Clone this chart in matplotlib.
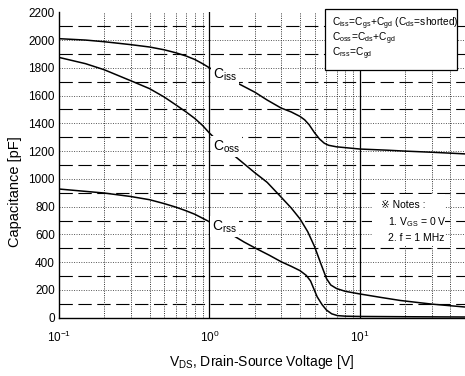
import matplotlib
matplotlib.use("Agg")
import matplotlib.pyplot as plt
from matplotlib.patches import Rectangle

plt.rcParams['font.family'] = ['Liberation Sans', 'DejaVu Sans']
plt.rcParams['mathtext.fontset'] = 'custom'
plt.rcParams['mathtext.rm'] = 'Liberation Sans'
plt.rcParams['mathtext.it'] = 'Liberation Sans'

# ---- data ----
ciss_v = [0.1, 0.15, 0.2, 0.3, 0.4, 0.5, 0.6, 0.7, 0.8, 0.9, 1.0, 1.2, 1.42, 1.7, 2.0, 2.42, 3.0, 3.5, 4.0, 4.3, 4.6, 5.0, 5.4, 5.8, 6.2, 7.0, 8.0, 10, 15, 20, 30, 50]
ciss_c = [2010, 2000, 1988, 1967, 1950, 1930, 1908, 1885, 1860, 1830, 1800, 1755, 1709, 1665, 1625, 1568, 1510, 1482, 1450, 1425, 1390, 1332, 1287, 1257, 1242, 1231, 1225, 1215, 1207, 1200, 1192, 1180]

coss_v = [0.1, 0.15, 0.2, 0.3, 0.4, 0.5, 0.6, 0.7, 0.8, 0.9, 1.0, 1.2, 1.49, 2.0, 2.42, 3.0, 3.5, 4.0, 4.5, 5.0, 5.5, 6.0, 6.4, 7.0, 8.0, 10, 14, 18.6, 30, 50]
coss_c = [1875, 1830, 1786, 1707, 1650, 1590, 1532, 1482, 1435, 1385, 1330, 1248, 1160, 1045, 975, 868, 790, 712, 620, 512, 390, 282, 236, 210, 190, 171, 145, 124, 98, 77]

crss_v = [0.1, 0.2, 0.3, 0.4, 0.5, 0.6, 0.7, 0.8, 0.94, 1.2, 1.42, 1.7, 2.03, 2.5, 3.0, 3.5, 4.0, 4.4, 4.7, 5.0, 5.2, 5.6, 6.0, 6.5, 7.1, 8.0, 10, 20, 50]
crss_c = [927, 898, 873, 850, 822, 796, 770, 745, 706, 645, 596, 545, 500, 450, 403, 370, 339, 305, 265, 195, 151, 95, 55, 28, 15, 11, 9, 7, 5]

y_ticks = list(range(0, 2201, 200))
y_dash = list(range(100, 2200, 200))
y_dot = list(range(200, 2200, 200))
x_major = [1, 10]
x_minor = [0.2, 0.3, 0.4, 0.5, 0.6, 0.7, 0.8, 0.9, 2, 3, 4, 5, 6, 7, 8, 9, 20, 30, 40, 50]
x_ticks = [0.1, 1, 10]
x_ticklabels = [r'$\mathregular{10^{-1}}$', r'$\mathregular{10^{0}}$', r'$\mathregular{10^{1}}$']

W, H = 465, 376
fig = plt.figure(figsize=(W / 100, H / 100), dpi=100)
ax = fig.add_axes([59 / W, 1 - 317.7 / H, (465 - 59) / W, (317.7 - 12.3) / H])
ax.set_xscale('log')
ax.set_xlim(0.1, 50)
ax.set_ylim(0, 2200)

# grid
for y in y_dash:
    ax.axhline(y, color='black', lw=0.8, dashes=(12, 5), zorder=1)
for y in y_dot:
    ax.axhline(y, color='#555555', lw=0.7, dashes=(1, 1.5), zorder=1)
for x in x_minor:
    ax.axvline(x, color='#333333', lw=0.7, dashes=(1, 1.3), zorder=1)
for x in x_major:
    ax.axvline(x, color='black', lw=0.9, zorder=1)

ax.plot(ciss_v, ciss_c, color='black', lw=1.1, zorder=3)
ax.plot(coss_v, coss_c, color='black', lw=1.1, zorder=3)
ax.plot(crss_v, crss_c, color='black', lw=1.1, zorder=3)

bb = dict(facecolor='white', edgecolor='none', pad=1.5)
ax.text(1.05, 1748, r'$\mathregular{C_{iss}}$', fontsize=10, ha='left', va='center', bbox=bb, zorder=4)
ax.text(1.05, 1232, r'$\mathregular{C_{oss}}$', fontsize=10, ha='left', va='center', bbox=bb, zorder=4)
ax.text(1.04, 656, r'$\mathregular{C_{rss}}$', fontsize=10, ha='left', va='center', bbox=bb, zorder=4)

for s in ['top', 'right']:
    ax.spines[s].set_visible(False)
for s in ['left', 'bottom']:
    ax.spines[s].set_linewidth(1.0)
    ax.spines[s].set_zorder(5)

ax.set_yticks(y_ticks)
ax.set_yticklabels([str(v) for v in y_ticks])
ax.set_xticks(x_ticks)
ax.set_xticklabels(x_ticklabels)
ax.xaxis.set_minor_locator(matplotlib.ticker.NullLocator())
ax.tick_params(axis='both', length=0, labelsize=8.5)
ax.tick_params(axis='x', pad=9)
ax.tick_params(axis='y', pad=3)

# axis labels
fig.text(262 / W, 1 - 362 / H, r'$\mathregular{V_{DS}}$, Drain-Source Voltage [V]', fontsize=10,
         ha='center', va='center')
fig.text(15 / W, 1 - 192 / H, 'Capacitance [pF]', fontsize=10.5, rotation=90, ha='center', va='center')

# legend box
fig.patches.append(Rectangle((325 / W, 1 - 70 / H), (457 - 325) / W, (70 - 9) / H,
                             transform=fig.transFigure, facecolor='white', edgecolor='black', lw=0.9, zorder=6))
leg_lines = [r'$\mathregular{C_{iss}\!=\!C_{gs}\!+\!C_{gd}\ (C_{ds}\!=\!shorted)}$',
             r'$\mathregular{C_{oss}\!=\!C_{ds}\!+\!C_{gd}}$',
             r'$\mathregular{C_{rss}\!=\!C_{gd}}$']
for i, t in enumerate(leg_lines):
    fig.text(332 / W, 1 - (26 + 15 * i) / H, t, fontsize=7.3, ha='left', va='baseline', zorder=7)

# notes
fig.patches.append(Rectangle((372 / W, 1 - 246 / H), (445 - 372) / W, (246 - 194) / H,
                             transform=fig.transFigure, facecolor='white', edgecolor='none', zorder=6))
fig.text(381 / W, 1 - 205 / H, '※ Notes :', fontsize=7.5, ha='left', va='center', zorder=7)
fig.text(388 / W, 1 - 222 / H, r'1. $\mathregular{V_{GS}}$ = 0 V', fontsize=7.5, ha='left', va='center', zorder=7)
fig.text(388 / W, 1 - 238 / H, '2. f = 1 MHz', fontsize=7.5, ha='left', va='center', zorder=7)

fig.savefig('out.png', dpi=100)
